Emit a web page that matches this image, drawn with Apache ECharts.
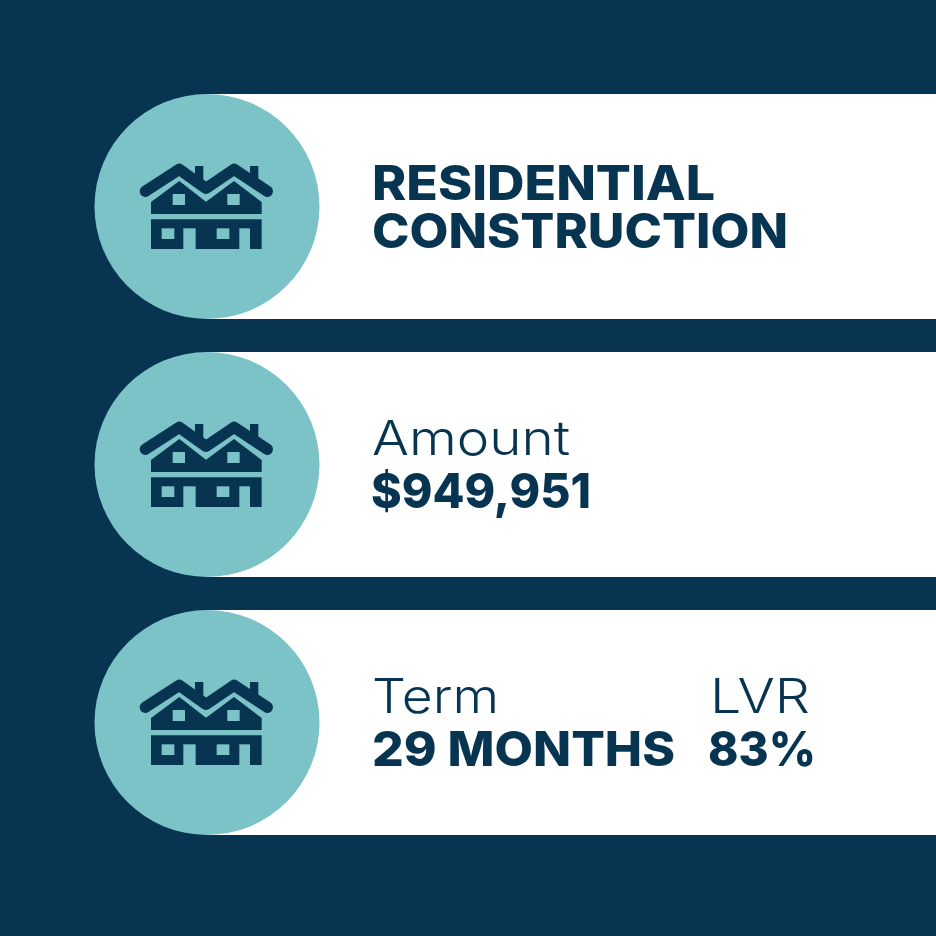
<!DOCTYPE html>
<html>
<head>
<meta charset="utf-8">
<style>html,body{margin:0;padding:0;background:#073551}#main{width:936px;height:936px}</style>
<script src="https://cdn.jsdelivr.net/npm/echarts@6/dist/echarts.min.js"></script>
</head>
<body>
<div id="main"></div>
<script>
var navy = '#073551'
var teal = '#7cc3c8'
var panelTops = [94, 352, 610]

// text rows: [text, x, capCenterY relative to panel top, weight, size, target width]
var title1 = ['RESIDENTIAL', 372, 91.5, 800, 48, 343]
var title2 = ['CONSTRUCTION', 372, 140, 800, 48, 416]
var amountLabel = ['Amount', 372, 88.5, 300, 48, 198]
var amountValue = ['$949,951', 371, 142, 800, 48, 220]
var termLabel = ['Term', 372, 88.5, 300, 48, 127]
var termValue = ['29 MONTHS', 372, 142, 800, 48, 303]
var lvrLabel = ['LVR', 710, 88.5, 300, 48, 100]
var lvrValue = ['83%', 708, 142, 800, 48, 108]
var panelTexts = [[title1, title2], [amountLabel, amountValue], [termLabel, termValue, lvrLabel, lvrValue]]

function houseIcon () {
  // drawn on a 3x grid, then scaled down onto the circle
  var s = { fill: navy }
  var hole = { fill: teal }
  var kids = [
    { type: 'rect', shape: { x: 195, y: 48, width: 25, height: 50 }, style: s },
    { type: 'rect', shape: { x: 360, y: 48, width: 25, height: 50 }, style: s },
    { type: 'polyline', shape: { points: [[46, 124], [148, 58], [228, 115], [312, 58], [412, 124]] },
      style: { fill: 'none', stroke: navy, lineWidth: 34, lineCap: 'round', lineJoin: 'round' } },
    { type: 'polygon', shape: { points: [[63, 156], [148, 93], [228, 155], [312, 93], [395, 156], [395, 192], [63, 192]] }, style: s },
    { type: 'rect', shape: { x: 128, y: 132, width: 37, height: 33 }, style: hole },
    { type: 'rect', shape: { x: 292, y: 132, width: 37, height: 33 }, style: hole },
    { type: 'rect', shape: { x: 63, y: 208, width: 332, height: 89 }, style: s },
    { type: 'rect', shape: { x: 95, y: 235, width: 38, height: 32 }, style: hole },
    { type: 'rect', shape: { x: 260, y: 235, width: 38, height: 32 }, style: hole },
    { type: 'rect', shape: { x: 160, y: 235, width: 37, height: 63 }, style: hole },
    { type: 'rect', shape: { x: 328, y: 235, width: 32, height: 63 }, style: hole }
  ]
  return { type: 'group', x: 130, y: 56, scaleX: 1 / 3, scaleY: 1 / 3, children: kids }
}

var elements = [{ type: 'rect', shape: { x: 0, y: 0, width: 936, height: 936 }, style: { fill: navy } }]

panelTops.forEach(function (top, i) {
  var kids = [
    { type: 'rect', shape: { x: 207, y: 0, width: 729, height: 225 }, style: { fill: '#ffffff' } },
    { type: 'circle', shape: { cx: 207, cy: 112.5, r: 112.5 }, style: { fill: teal } },
    houseIcon()
  ]
  panelTexts[i].forEach(function (t) {
    kids.push({
      type: 'text',
      x: t[1],
      y: t[2],
      style: {
        text: t[0],
        fill: navy,
        fontFamily: 'Inter',
        fontWeight: t[3],
        fontSize: t[4],
        align: 'left',
        verticalAlign: 'middle'
      },
      targetWidth: t[5]
    })
  })
  elements.push({ type: 'group', x: 0, y: top, children: kids })
})

// squeeze each text to the width it has in the picture
var measure = document.createElement('canvas').getContext('2d')
elements.forEach(function (g) {
  if (!g.children) return
  g.children.forEach(function (c) {
    if (c.type !== 'text') return
    measure.font = c.style.fontWeight + ' ' + c.style.fontSize + 'px ' + c.style.fontFamily
    c.scaleX = c.targetWidth / measure.measureText(c.style.text).width
  })
})

var chart = echarts.init(document.getElementById('main'), null, { renderer: 'canvas' })
chart.setOption({ backgroundColor: navy, animation: false, graphic: { elements: elements } })
</script>
</body>
</html>
